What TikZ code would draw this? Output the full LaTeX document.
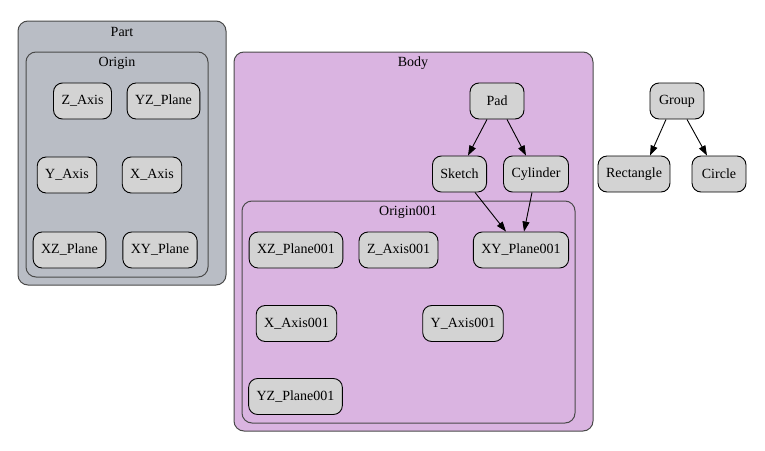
\documentclass[tikz,border=0pt]{standalone}
\usepackage{fontspec}
\setmainfont{Liberation Serif}
\usetikzlibrary{arrows.meta}
\definecolor{partfill}{HTML}{B9BDC5}
\definecolor{bodyfill}{HTML}{DAB4E1}
\definecolor{nodefill}{HTML}{D3D3D3}
\definecolor{clusterline}{HTML}{4A4A4A}
\tikzset{
  gnode/.style={draw=black, fill=nodefill, rounded corners=9pt, line width=0.9pt,
    minimum height=36pt, minimum width=54pt, inner xsep=8pt, inner ysep=0pt, font=\rmfamily\fontsize{14}{16}\selectfont},
  cluster/.style={draw=clusterline, rounded corners=10pt, line width=1pt},
  clabel/.style={font=\rmfamily\fontsize{14}{16}\selectfont, inner sep=0pt},
  edge/.style={draw=black, line width=0.9pt, -{Triangle[length=10pt,width=7pt]}}
}
\begin{document}
\begin{tikzpicture}[x=1pt,y=-1pt]
\useasboundingbox (0,0) rectangle (765,450);
% Part
\draw[cluster, fill=partfill] (18,21) rectangle (226,285);
\node[clabel] (partlbl) at (122,32) {Part};
\draw[cluster, fill=partfill] (26,52) rectangle (208,277);
\node[clabel] (originlbl) at (117,63) {Origin};
\node[gnode] (zaxis) at (82.5,101) {Z\_Axis};
\node[gnode] (yzplane) at (163.5,101) {YZ\_Plane};
\node[gnode] (yaxis) at (67,175) {Y\_Axis};
\node[gnode] (xaxis) at (152,175) {X\_Axis};
\node[gnode] (xzplane) at (69.5,250) {XZ\_Plane};
\node[gnode] (xyplane) at (160,250) {XY\_Plane};
% Body
\draw[cluster, fill=bodyfill] (234,52) rectangle (593,431);
\node[clabel] (bodylbl) at (413,63) {Body};
\draw[cluster, fill=bodyfill] (242,201) rectangle (575,423);
\node[clabel] (origin1lbl) at (408,212) {Origin001};
\node[gnode] (pad) at (497,101) {Pad};
\node[gnode] (sketch) at (459.5,174) {Sketch};
\node[gnode] (cylinder) at (536,174) {Cylinder};
\node[gnode] (xzplane1) at (296,250) {XZ\_Plane001};
\node[gnode] (zaxis1) at (398.5,250) {Z\_Axis001};
\node[gnode] (xyplane1) at (521,250) {XY\_Plane001};
\node[gnode] (xaxis1) at (296.5,323.5) {X\_Axis001};
\node[gnode] (yaxis1) at (463,323.5) {Y\_Axis001};
\node[gnode] (yzplane1) at (295.5,396.5) {YZ\_Plane001};
% Group
\node[gnode] (group) at (677,101) {Group};
\node[gnode] (rect) at (634,174) {Rectangle};
\node[gnode] (circle) at (719,174) {Circle};
% edges
\draw[edge] ([xshift=-10pt]pad.south) -- ([xshift=8.5pt]sketch.north);
\draw[edge] ([xshift=10pt]pad.south) -- ([xshift=-10pt]cylinder.north);
\draw[edge] ([xshift=15.5pt]sketch.south) -- ([xshift=-15pt]xyplane1.north);
\draw[edge] ([xshift=-4pt]cylinder.south) -- ([xshift=3pt]xyplane1.north);
\draw[edge] ([xshift=-11pt]group.south) -- ([xshift=16pt]rect.north);
\draw[edge] ([xshift=10pt]group.south) -- ([xshift=-12pt]circle.north);
\end{tikzpicture}
\end{document}
